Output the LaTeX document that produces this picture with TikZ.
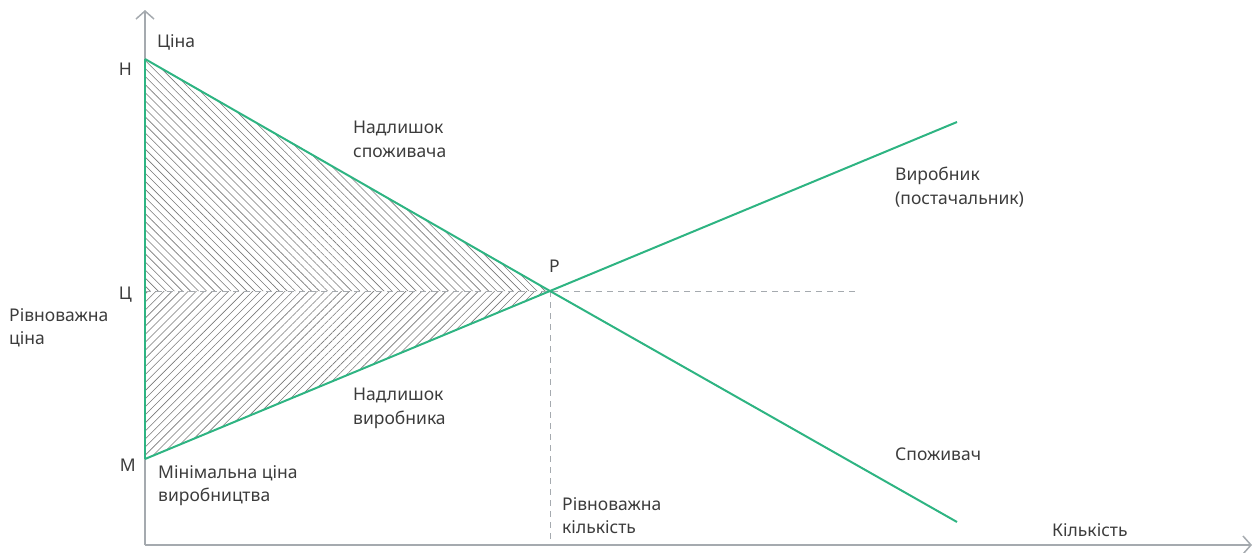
\documentclass[tikz,border=0pt]{standalone}
\usepackage{fontspec}
\setmainfont{Noto Sans}
\usetikzlibrary{arrows.meta,patterns.meta}
\definecolor{grn}{RGB}{46,180,130}
\definecolor{axgray}{RGB}{165,170,175}
\definecolor{txt}{RGB}{60,60,60}
\definecolor{hatch}{RGB}{120,120,120}
\begin{document}
\begin{tikzpicture}[x=1pt,y=-1pt,
  lbl/.style={font=\fontsize{17.5}{23.5}\selectfont\color{txt}, inner sep=0pt, align=left},
  curve/.style={draw=grn, line width=2pt},
  axis/.style={draw=axgray, line width=1.5pt, -{Straight Barb[length=8pt,width=18pt,line width=1.5pt]}},
  guide/.style={draw=axgray, line width=1pt, dash pattern=on 6pt off 5pt}]
\useasboundingbox (0,0) rectangle (1254,552);
\coordinate (O) at (145,545);
\coordinate (ytip) at (145,10);
\coordinate (xtip) at (1252,545);
\coordinate (H) at (145,59);
\coordinate (M) at (145,459);
\coordinate (C) at (145,291);
\coordinate (P) at (550,291);
\coordinate (Send) at (957,122);
\coordinate (Dend) at (957,522);
\coordinate (Gend) at (858,291);
\coordinate (Q) at (550,545);
% hatched areas
\fill[pattern={Lines[angle=-45,distance=5.7pt,line width=0.6pt]},pattern color=hatch] (H) -- (P) -- (C) -- cycle;
\fill[pattern={Lines[angle=45,distance=5.7pt,line width=0.6pt]},pattern color=hatch] (C) -- (P) -- (M) -- cycle;
% guides
\draw[guide] (C) -- (Gend);
\draw[guide] (P) -- (Q);
% axes
\draw[axis] (O) -- (ytip);
\draw[axis] (O) -- (xtip);
% curves
\draw[curve] (M) -- (H);
\draw[curve] (M) -- (P) -- (Send);
\draw[curve] (H) -- (P) -- (Dend);
% labels
\node[lbl, anchor=west] (lprice) at (157,42) {Ціна};
\node[lbl, anchor=east] (lH) at (132,69) {Н};
\node[lbl, anchor=east] (lC) at (132,295) {Ц};
\node[lbl, anchor=north west] (leq) at (9,308) {Рівноважна\\ціна};
\node[lbl, anchor=east] (lM) at (136,465) {М};
\node[lbl, anchor=north west] (lmin) at (158,465) {Мінімальна ціна\\виробництва};
\node[lbl, anchor=north west] (lcs) at (353,121) {Надлишок\\споживача};
\node[lbl, anchor=north west] (lps) at (353,388) {Надлишок\\виробника};
\node[lbl, anchor=west] (lP) at (549,266) {Р};
\node[lbl, anchor=north west] (lsup) at (895,167) {Виробник\\(постачальник)};
\node[lbl, anchor=west] (ldem) at (895,454) {Споживач};
\node[lbl, anchor=north west] (leqq) at (562,497) {Рівноважна\\кількість};
\node[lbl, anchor=west] (lqty) at (1052,530) {Кількість};
\end{tikzpicture}
\end{document}
